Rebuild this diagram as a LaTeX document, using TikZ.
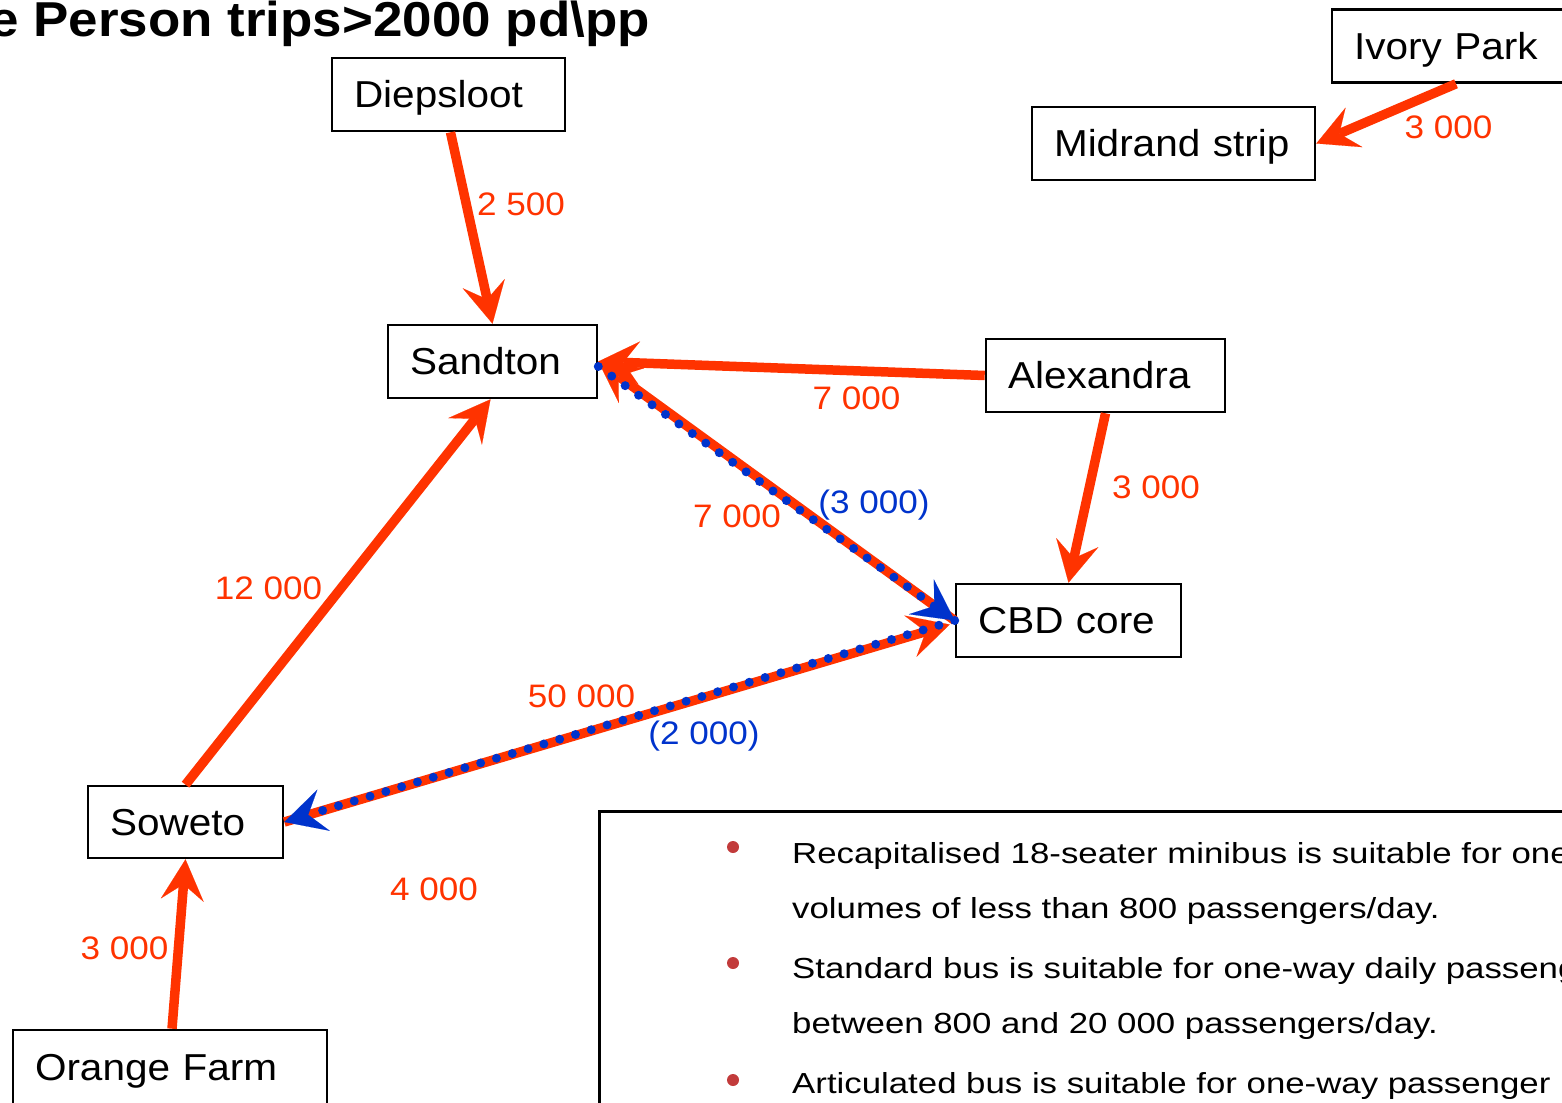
\documentclass[tikz,border=0pt]{standalone}
\usepackage{fontspec}
\setmainfont{Liberation Sans}[FakeStretch=1.08]
\newfontfamily\bulletfont{Liberation Sans}[FakeStretch=1.2]
\usetikzlibrary{arrows.meta}
\definecolor{flow}{HTML}{FF3300}
\definecolor{bus}{HTML}{0033CC}
\definecolor{bulletred}{HTML}{C23B3B}

\begin{document}
\begin{tikzpicture}[x=1pt,y=-1pt,
  place/.style={draw=black, line width=2.6pt, inner xsep=22pt, inner ysep=0pt,
    minimum height=73pt, align=left, text height=26.6pt, text depth=0pt,
    font=\fontsize{37.5}{40}\selectfont},
  head/.tip={Stealth[length=41pt,width=43pt,inset=16pt,line width'=0.1pt]},
  trip/.style={draw=flow, line width=9.5pt, -head},
  busline/.style={draw=bus, line width=9pt, line cap=round,
    dash pattern=on 0pt off 16.5pt, -head},
  vol/.style={text=flow, inner sep=0pt, text height=23.3pt, text depth=0pt,
    font=\fontsize{32.5}{34}\selectfont},
  busvol/.style={vol, text=bus},
  note/.style={anchor=base west, inner sep=0pt,
    font=\bulletfont\fontsize{29}{32}\selectfont},
  bulletdot/.style={fill=bulletred}
]
\useasboundingbox (0,0) rectangle (1562,1102);
\clip (0,0) rectangle (1562,1102);

% heading
\node[anchor=base east, inner sep=0pt, font=\bfseries\fontsize{49}{52}\selectfont]
  (title) at (650,37) {e Person trips>2000 pd\textbackslash pp};

% places
\node[place, text width=189pt] (diep)    at (448.5,94.5)  {Diepsloot};
\node[place, text width=216pt] (ivory)   at (1462,46)     {Ivory Park};
\node[place, text width=239pt] (midrand) at (1173.5,143.5){Midrand strip};
\node[place, text width=165pt] (sandton) at (492.5,361.5) {Sandton};
\node[place, text width=195pt] (alex)    at (1105.5,375.5){Alexandra};
\node[place, text width=181pt] (cbd)     at (1068.5,620.5){CBD core};
\node[place, text width=151pt, minimum height=72pt] (soweto) at (185.5,822) {Soweto};
\node[place, text width=270pt, minimum height=74pt] (orange) at (170,1067) {Orange Farm};

% person trip flows
\draw[trip] ([xshift=2pt]diep.south) -- (sandton.north);
\draw[trip] ([xshift=-6pt]ivory.south) -- (midrand.east);
\draw[trip] (alex.west) -- (sandton.east);
\draw[trip] (alex.south) -- (cbd.north);
\draw[trip] (soweto.north) -- ([xshift=-2pt]sandton.south);
\draw[trip] ([xshift=2pt]orange.north) -- (soweto.south);
\draw[trip] (cbd.west) -- (sandton.east);
\draw[trip] (soweto.east) -- ([xshift=-5pt,yshift=-4pt]cbd.west);

% bus flows
\draw[busline] ([yshift=-5pt]sandton.east) -- (cbd.west);
\draw[busline] (cbd.west) -- (soweto.east);

% volumes
\node[vol] (v1) at (521,204) {2 500};
\node[vol] (v2) at (1448.5,127) {3 000};
\node[vol] (v3) at (856.5,398) {7 000};
\node[vol] (v4) at (1156,487) {3 000};
\node[vol] (v5) at (737,516) {7 000};
\node[busvol] (b1) at (874,502) {(3 000)};
\node[vol] (v6) at (268.5,588) {12 000};
\node[vol] (v7) at (581.5,696) {50 000};
\node[busvol] (b2) at (704,733) {(2 000)};
\node[vol] (v8) at (434,889) {4 000};
\node[vol] (v9) at (124.5,948) {3 000};

% vehicle notes
\node[draw=black, line width=2.6pt, anchor=north west, minimum width=1000pt,
  minimum height=330pt, inner sep=0pt] (legend) at (598,810) {};
\fill[bulletdot] (733,847) circle (6);
\fill[bulletdot] (733,963) circle (6);
\fill[bulletdot] (733,1080) circle (6);
\node[note] (n1) at (792,863) {Recapitalised 18-seater minibus is suitable for one};
\node[note] (n2) at (792,918) {volumes of less than 800 passengers/day.};
\node[note] (n3) at (792,978) {Standard bus is suitable for one-way daily passenger};
\node[note] (n4) at (792,1033) {between 800 and 20 000 passengers/day.};
\node[note] (n5) at (792,1093) {Articulated bus is suitable for one-way passenger};
\end{tikzpicture}
\end{document}
